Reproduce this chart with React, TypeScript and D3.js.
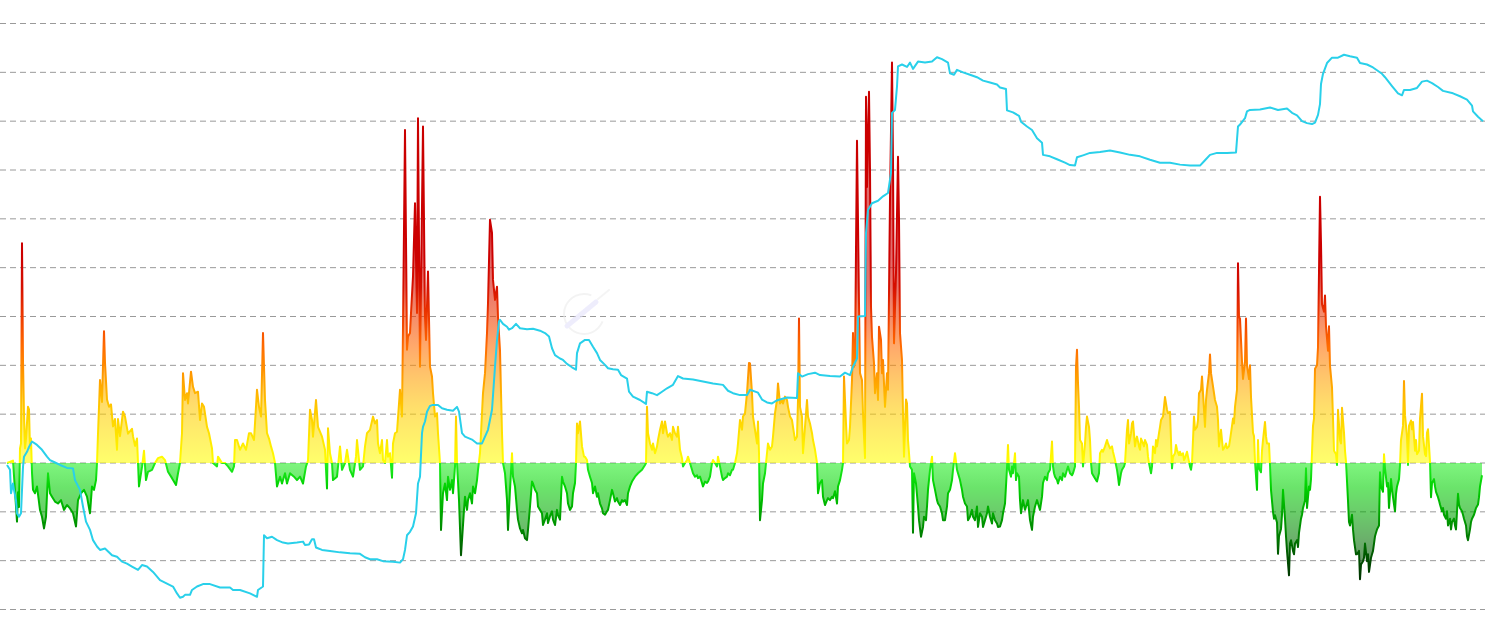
import { useRef, useEffect } from 'react';
import * as d3 from 'd3';

type Pt = [number, number];

// oscillator readings: [day, value]
const OSC_A: Pt[] = [[0,0],[6,0.05],[10,-1.2],[11,-0.6],[12,-0.9],[13,0.3],[14,0.4],[15,4.5],[16,2.1],[17,1.0],[18,0.3],[19,0.5],[21,1.15],[22,1.1],[23,0.3],[24,0.5],[25,-0.2],[26,-0.55],[28,-0.62],[30,-0.48],[33,-0.96],[35,-1.1],[37,-1.34],[39,-1.1],[41,-0.21],[43,-0.62],[45,-0.69],[48,-0.79],[51,-0.83],[54,-0.76],[57,-0.96],[60,-0.86],[63,-0.93],[66,-1.03],[69,-1.3],[71,-0.76],[74,-0.62],[77,-0.55],[80,-0.69],[83,-1.03],[85,-0.48],[87,-0.55],[89,-0.35],[90,0],[91,0.6],[93,1.7],[95,1.25],[96,2.0],[97,2.7],[98,2.05],[100,1.3],[102,1.15],[104,1.2],[106,0.75],[108,0.9],[110,0.27],[111,0.9],[113,0.55],[116,1.05],[118,0.95],[121,0.6],[125,0.7],[126,0.55],[128,0.35],[130,0.5],[131,0],[132,-0.48],[135,-0.08],[137,0.25],[139,-0.35],[141,-0.18],[145,-0.14],[148,0],[151,0.1],[155,0.13],[158,0.06],[161,-0.18],[165,-0.31],[169,-0.45],[171,-0.21],[173,0],[175,0.61],[176,1.84],[178,1.29],[180,1.43],[181,1.22],[184,1.87],[186,1.56],[188,1.43],[191,1.46],[193,0.88],[195,1.22],[197,1.15],[200,0.74],[202,0.61],[205,0.3],[206,0],[210,-0.07],[211,0.13],[215,0],[218,0],[221,-0.07],[225,-0.18],[227,-0.07],[228,0.47],[230,0.47],[233,0.27],[236,0.4],[239,0.27],[242,0.61]];

const OSC_B: Pt[] = [[244,0.61],[247,0.47],[250,1.5],[252,1.15],[254,0.95],[256,2.66],[258,1.29],[260,0.61],[262,0.5],[264,0.34],[266,0.2],[268,0],[270,-0.48],[273,-0.28],[275,-0.42],[278,-0.21],[280,-0.42],[283,-0.21],[287,-0.28],[290,-0.35],[293,-0.28],[296,-0.42],[299,-0.07],[301,0.05],[303,1.09],[305,0.88],[306,0.54],[309,1.29],[311,0.74],[315,0.54],[318,0.27],[320,-0.52],[321,0.71],[323,0.2],[325,0],[326,-0.35],[330,-0.28],[333,0.34],[335,-0.14],[338,0],[340,0.27],[343,-0.14],[346,-0.28],[349,0.13],[350,0.47],[353,-0.14],[356,-0.07],[358,0.34],[360,0.61],[363,0.68],[366,0.95],[368,0.81],[370,0.88],[371,0.4],[373,0.2],[375,0.47],[376,0.06],[378,0],[380,0.47],[381,0.13],[383,0.2],[385,-0.3],[386,0.4],[388,0.61],[390,0.64],[393,1.5],[395,0.95],[396,2.79],[398,6.82],[400,2.32],[401,2.59],[403,2.66],[404,3.07],[406,3.82],[408,5.32],[410,3.07],[411,7.06],[413,1.97],[416,6.89],[418,3.0],[419,2.52],[421,3.92],[423,1.97],[425,1.77],[426,1.43],[428,0.95],[430,1.02],[431,0.61],[433,0],[434,-1.37],[436,-0.62],[438,-0.42],[440,-0.76],[441,-0.28],[443,-0.55],[445,-0.35],[446,-0.62],[448,-0.07],[449,0.95],[450,0],[452,-0.76],[454,-1.89],[455,-1.58],[457,-0.96],[458,-0.69],[460,-0.96],[461,-0.76],[463,-0.62],[465,-0.83],[466,-0.48],[468,-0.62],[470,-0.35],[471,-0.14],[473,0.2],[475,1.02],[476,1.43],[478,1.84],[480,2.66],[481,3.27],[483,4.98],[485,4.71],[486,3.75],[488,3.34],[490,3.61],[491,2.98],[493,2.3]];

const OSC_C: Pt[] = [[495,0.61],[496,0],[498,-0.21],[500,-0.76],[501,-1.37],[503,-0.55],[505,0.2],[506,-0.28],[508,-0.48],[510,-0.96],[511,-1.16],[513,-1.34],[515,-1.44],[516,-1.37],[518,-1.54],[520,-1.58],[521,-1.37],[523,-0.89],[525,-0.38],[526,-0.42],[528,-0.55],[530,-0.62],[531,-0.89],[533,-0.96],[535,-1.03],[536,-1.27],[538,-1.16],[540,-1.03],[541,-1.23],[543,-1.09],[545,-0.99],[546,-1.16],[548,-1.27],[550,-0.96],[551,-1.06],[553,-1.16],[555,-0.28],[556,-0.38],[558,-0.48],[560,-0.62],[561,-0.83],[563,-0.96],[565,-0.89],[566,-0.62],[568,-0.41],[569,0],[570,0.81],[571,0.61],[573,0.85],[575,0.34],[577,0.13],[578,0.13],[580,0.06],[581,-0.14],[583,-0.28],[585,-0.41],[586,-0.62],[588,-0.48],[590,-0.69],[591,-0.62],[593,-0.83],[595,-0.93],[596,-1.03],[598,-1.06],[600,-0.99],[601,-0.96],[603,-0.76],[605,-0.55],[606,-0.62],[608,-0.79],[610,-0.72],[611,-0.79],[613,-0.86],[615,-0.76],[616,-0.79],[618,-0.76],[620,-0.86],[621,-0.62],[623,-0.48],[625,-0.38],[628,-0.28],[631,-0.21],[635,-0.14],[638,-0.04],[639,0],[640,1.15],[641,0.61],[643,0.4],[645,0.27],[646,0.4],[648,0.2],[650,0.34],[651,0.47],[653,0.68],[655,0.85],[656,0.61],[658,0.85],[660,0.61],[661,0.54],[663,0.61],[665,0.47],[666,0.74],[668,0.61],[670,0.54],[671,0.74],[673,0.27],[675,0.1],[676,-0.07],[678,0],[680,0.06],[681,0.13],[683,0],[685,-0.14],[686,-0.21],[688,-0.28],[690,-0.25],[691,-0.31],[693,-0.28],[695,-0.41],[696,-0.48],[698,-0.38],[700,-0.41],[701,-0.38],[703,-0.28],[705,0],[706,0.06],[708,0],[710,-0.07],[711,0.13],[713,-0.07],[715,-0.28],[716,-0.35],[718,-0.31],[720,-0.28],[721,-0.21],[723,-0.25],[725,-0.14],[726,-0.14],[728,0],[730,0.2],[731,0.4],[733,0.88],[735,0.68],[736,0.95],[738,1.02],[740,1.43],[742,2.05]];

const OSC_D: Pt[] = [[743,2.04],[745,1.43],[746,0.95],[748,0.68],[750,0.4],[751,0.85],[752,0.2],[753,-1.17],[755,-0.76],[756,-0.42],[758,-0.21],[759,0],[761,0.4],[763,0.27],[765,0.34],[766,0.54],[768,1.02],[770,1.29],[771,1.63],[773,1.22],[775,1.29],[776,1.22],[778,1.36],[780,1.29],[781,1.15],[783,0.95],[785,0.88],[786,0.74],[788,0.47],[790,0.54],[791,1.29],[792,2.96],[793,1.15],[795,0.95],[796,0.2],[798,0.74],[800,1.29],[801,0.95],[803,0.81],[805,0.61],[806,0.47],[808,0.27],[810,0],[811,-0.62],[813,-0.41],[815,-0.35],[816,-0.69],[818,-0.86],[820,-0.76],[821,-0.72],[823,-0.76],[825,-0.69],[826,-0.72],[828,-0.58],[830,-0.83],[831,-0.48],[833,-0.35],[835,-0.14],[836,0],[837,1.77],[839,0.81],[840,0.4],[842,0.47],[843,0.74],[845,1.7],[846,2.66],[847,1.97],[848,2.11],[850,6.6],[852,3.27],[853,1.84],[855,1.7],[856,1.02],[858,0.1],[859,7.5],[860,5.65],[862,7.6],[863,6.0],[864,3.2],[865,2.58],[867,2.04],[868,1.43],[870,1.84],[871,1.29],[872,2.79],[874,2.52],[875,1.84],[876,2.11],[878,1.15],[880,1.84],[881,1.5],[883,5.4],[885,8.2],[886,6.2],[887,2.45],[889,3.9],[891,6.27],[892,5.0],[893,2.66],[895,2.11],[896,1.02],[897,0.13],[899,1.3],[900,1.22],[901,0.47],[903,-0.07],[905,-0.14],[906,-1.43],[907,-0.21],[909,-0.42],[911,-0.89],[912,-1.17],[914,-1.51],[916,-1.31],[917,-1.1],[919,-1.17],[920,-0.89],[921,-0.55],[923,-0.14],[925,0.13],[926,-0.35],[928,-0.55],[930,-0.76],[931,-0.83],[933,-0.89],[935,-1.03],[936,-1.17],[938,-1.17],[940,-0.89],[941,-0.62],[943,-0.55],[945,-0.35],[946,-0.14],[948,0.2],[950,-0.14],[951,-0.21],[953,-0.35],[955,-0.55],[956,-0.69],[958,-0.83],[960,-0.89],[961,-1.17],[963,-1.1],[965,-0.96],[966,-1.1],[968,-1.17],[970,-0.89],[971,-1.31],[973,-1.03],[975,-1.1],[976,-1.31],[978,-1.17],[980,-1.03],[981,-0.89],[983,-1.1],[985,-1.24],[986,-1.03],[988,-1.17],[990,-1.24],[991,-1.31],[993,-1.3]];

const OSC_E: Pt[] = [[995,-1.17],[996,-1.03],[998,-0.83],[1000,-0.1],[1001,0.37],[1002,-0.14],[1004,-0.28],[1005,-0.07],[1006,-0.21],[1008,0.2],[1009,-0.35],[1010,-0.21],[1012,-0.28],[1013,-0.76],[1014,-1.03],[1015,-0.89],[1016,-0.76],[1018,-0.96],[1020,-0.83],[1021,-0.76],[1023,-1.17],[1025,-1.37],[1026,-1.1],[1028,-0.89],[1030,-0.76],[1031,-0.83],[1033,-0.96],[1035,-0.69],[1036,-0.41],[1038,-0.28],[1040,-0.35],[1041,-0.21],[1043,-0.14],[1045,0.44],[1046,-0.07],[1047,-0.21],[1048,-0.28],[1050,-0.35],[1051,-0.42],[1053,-0.28],[1055,-0.35],[1056,-0.21],[1058,-0.28],[1060,-0.14],[1061,-0.07],[1063,-0.21],[1065,-0.25],[1066,-0.21],[1068,-0.07],[1069,1.97],[1070,2.32],[1071,1.63],[1072,1.15],[1073,0.47],[1075,0.4],[1076,-0.07],[1078,0.4],[1079,0.74],[1080,0.95],[1082,0.74],[1083,0.47],[1084,0],[1085,-0.21],[1087,-0.28],[1089,-0.35],[1090,-0.38],[1092,-0.21],[1093,0.2],[1095,0.27],[1096,0.23],[1098,0.34],[1100,0.47],[1101,0.4],[1103,0.3],[1105,0.34],[1106,0.23],[1108,0.06],[1110,-0.14],[1111,-0.28],[1112,-0.45],[1114,-0.21],[1115,-0.14],[1117,-0.07],[1118,0],[1120,0.68],[1121,0.88],[1122,0.4],[1124,0.61],[1125,0.81],[1126,0.85],[1128,0.34],[1129,0.47],[1130,0.54],[1132,0.34],[1133,0.27],[1134,0.5],[1136,0.4],[1137,0.34],[1138,0.47],[1140,0.37],[1141,0.13],[1142,0],[1144,-0.21],[1145,-0.07],[1146,0.34],[1148,0.2],[1149,0.47],[1150,0.34],[1152,0.61],[1153,0.74],[1154,0.88],[1156,0.95],[1157,1.15],[1158,1.35],[1160,1.09],[1161,1.02],[1163,1.05],[1164,0.47],[1165,-0.11],[1166,0.13],[1168,0.2],[1169,0.37],[1170,0.27],[1172,0.16],[1173,0.23],[1174,0.16],[1176,0.2],[1177,0.06],[1178,0.1],[1180,0.23],[1181,0.13],[1183,-0.07],[1184,-0.14],[1185,0],[1187,0.95],[1188,0.68],[1190,0.74],[1191,0.88],[1192,1.43],[1194,1.5],[1195,1.77],[1196,1.43],[1198,0.74],[1199,1.29],[1200,1.5],[1202,1.84],[1203,2.22],[1204,1.84],[1206,1.57],[1207,1.43],[1208,1.29],[1210,1.15],[1211,0.88],[1212,0.34],[1214,0.68],[1215,0.47],[1216,0.27],[1218,0.34],[1219,0.4],[1220,0.3],[1222,0.34],[1223,0.47],[1224,0.61],[1226,0.91],[1227,0.81],[1228,1.15],[1230,1.5],[1231,4.09],[1232,2.99]];

const OSC_F: Pt[] = [[1233,2.96],[1235,2.08],[1236,1.72],[1238,2.08],[1239,2.96],[1240,2.0],[1242,1.72],[1243,2.0],[1244,1.35],[1246,0.62],[1247,0.55],[1248,0.03],[1250,-0.55],[1251,0.47],[1252,-0.11],[1254,-0.19],[1255,0.25],[1256,0.47],[1258,0.84],[1259,0.55],[1260,0.4],[1262,0.4],[1263,-0.04],[1264,-0.55],[1266,-1.0],[1267,-1.14],[1268,-1.07],[1270,-1.22],[1271,-1.86],[1272,-1.5],[1274,-1.35],[1275,-1.06],[1276,-0.55],[1278,-1.14],[1279,-1.5],[1280,-1.8],[1282,-2.3],[1283,-1.65],[1284,-1.58],[1286,-1.8],[1287,-1.87],[1288,-1.65],[1290,-1.58],[1291,-1.72],[1292,-1.43],[1294,-1.14],[1295,-1.06],[1296,-0.92],[1298,-0.77],[1299,-0.11],[1300,-0.92],[1302,-0.48],[1303,-0.55],[1304,-0.33],[1306,0.76],[1307,0.91],[1308,1.93],[1310,2.0],[1311,2.37],[1313,5.45],[1314,4.5],[1315,3.25],[1317,3.1],[1318,3.43],[1319,2.8],[1321,2.3],[1322,2.8],[1323,1.99],[1325,1.55],[1326,0.91],[1327,0.25],[1329,0.18],[1330,-0.04],[1331,1.09],[1333,0.47],[1334,0.4],[1335,1.13],[1337,0.62],[1338,0.25],[1339,0.03],[1341,-0.77],[1342,-1.21],[1343,-1.28],[1345,-1.06],[1346,-1.36],[1347,-1.58],[1349,-1.87],[1350,-1.87],[1352,-1.8],[1353,-2.38],[1354,-2.08],[1356,-2.01],[1357,-1.94],[1358,-1.65],[1360,-2.01],[1361,-1.87],[1362,-2.23],[1364,-1.94],[1365,-1.87],[1366,-1.8],[1368,-1.5],[1369,-1.43],[1370,-1.36],[1372,-1.28],[1373,-0.19],[1374,-0.48],[1376,-0.59],[1377,0.18],[1378,-0.11],[1380,-0.48],[1381,-0.41],[1382,-0.92],[1384,-0.33],[1385,-0.55],[1386,-0.7],[1388,-0.99],[1389,-0.63],[1390,-0.48],[1392,-0.33],[1393,-0.04],[1394,0.47],[1396,0.76],[1397,1.68],[1398,0.98],[1400,0.55],[1401,-0.04],[1402,0.76],[1404,0.87],[1405,0.69],[1406,0.84],[1408,0.25],[1409,0.47],[1410,0.18],[1412,0.25],[1413,0.91],[1415,1.42],[1416,0.55],[1418,0.18],[1419,0.14],[1420,0.62],[1421,0.69],[1423,0.03],[1424,-0.7],[1425,-0.41],[1427,-0.33],[1428,-0.48],[1429,-0.59],[1431,-0.7],[1432,-0.77],[1433,-0.85],[1435,-0.99],[1436,-0.92],[1437,-1.06],[1439,-1.14],[1440,-0.99],[1441,-1.28],[1443,-1.14],[1444,-1.36],[1445,-1.21],[1447,-1.14],[1448,-1.28],[1449,-1.36],[1451,-0.63],[1452,-0.85],[1453,-0.92],[1455,-0.99],[1456,-1.06],[1457,-1.14],[1459,-1.28],[1460,-1.5],[1461,-1.58],[1463,-1.36],[1464,-1.21],[1465,-1.14],[1467,-1.06],[1468,-0.99],[1469,-0.92],[1471,-0.85],[1472,-0.7],[1473,-0.48],[1475,-0.25]];

// price line readings: [day, value]
const PRICE_A: Pt[] = [[0,-0.04],[3,-0.14],[4,-0.62],[6,-0.42],[7,-0.55],[9,-0.76],[10,-1.03],[12,-1.1],[14,-1.03],[16,-0.08],[17,0.13],[20,0.23],[22,0.33],[25,0.44],[30,0.37],[35,0.27],[40,0.13],[43,0.06],[48,0.01],[53,-0.04],[60,-0.1],[66,-0.11],[68,-0.35],[73,-0.55],[76,-0.89],[79,-1.2],[83,-1.37],[86,-1.58],[90,-1.71],[93,-1.78],[98,-1.75],[105,-1.89],[110,-1.92],[115,-2.02],[120,-2.06],[125,-2.12],[131,-2.19],[135,-2.09],[140,-2.12],[146,-2.23],[153,-2.4],[160,-2.47],[166,-2.53],[170,-2.67],[173,-2.76],[176,-2.74],[178,-2.7],[183,-2.7],[185,-2.6],[190,-2.53],[196,-2.48],[203,-2.48],[213,-2.55],[223,-2.55],[226,-2.6],[233,-2.6],[243,-2.67],[250,-2.74],[251,-2.6],[256,-2.53],[257,-1.48],[260,-1.54],[265,-1.51],[270,-1.58],[276,-1.63],[281,-1.65],[290,-1.63],[296,-1.61],[298,-1.68],[302,-1.67],[305,-1.56],[307,-1.56],[309,-1.73],[315,-1.78],[323,-1.8],[333,-1.83],[343,-1.85],[353,-1.86],[358,-1.93],[363,-1.97],[370,-1.97],[376,-2.01],[386,-2.02],[393,-2.04],[396,-1.97],[398,-1.78],[400,-1.48],[403,-1.41],[406,-1.3],[409,-1.03],[411,-0.42],[413,-0.28],[415,0.61],[416,0.74],[418,0.85],[420,1.05],[423,1.17],[426,1.19],[431,1.19],[435,1.12],[440,1.09],[446,1.07],[450,1.15],[452,1.05],[455,0.61],[458,0.54],[465,0.48],[470,0.4],[475,0.4],[478,0.54],[481,0.68],[485,1.09],[488,1.97],[490,2.52],[492,2.9],[493,2.93],[496,2.85],[500,2.79],[502,2.73],[505,2.76],[509,2.85],[513,2.76],[520,2.74],[526,2.75],[533,2.71],[538,2.66],[542,2.59],[545,2.35],[548,2.21],[553,2.14],[556,2.11],[560,2.03],[565,1.96],[569,1.91],[570,2.25],[573,2.45],[578,2.52],[582,2.52],[586,2.38],[590,2.25],[593,2.11],[598,2.01],[601,1.94],[606,1.92],[611,1.91],[614,1.8],[620,1.73],[622,1.46],[626,1.36],[633,1.29],[639,1.21],[640,1.46],[645,1.43],[650,1.39],[655,1.46],[660,1.53],[666,1.6],[671,1.78],[676,1.73],[686,1.71],[696,1.67],[706,1.63],[716,1.6],[721,1.48],[726,1.43],[733,1.39],[740,1.39],[742,1.46]];

const PRICE_B: Pt[] = [[743,1.5],[751,1.44],[755,1.3],[760,1.24],[765,1.22],[768,1.26],[771,1.29],[780,1.34],[790,1.33],[791,1.84],[795,1.77],[801,1.82],[808,1.85],[813,1.8],[823,1.78],[833,1.77],[838,1.85],[843,1.8],[846,1.97],[850,2.14],[851,3.0],[858,3.01],[859,4.71],[861,5.18],[865,5.32],[871,5.37],[876,5.46],[881,5.53],[884,5.94],[885,7.17],[888,7.23],[890,7.71],[891,8.12],[895,8.16],[900,8.11],[903,8.2],[906,8.07],[911,8.22],[918,8.2],[925,8.22],[930,8.31],[935,8.27],[941,8.2],[943,7.98],[947,7.95],[950,8.05],[956,8.0],[963,7.95],[970,7.9],[976,7.83],[983,7.79],[990,7.75],[993,7.69],[999,7.66],[1000,7.22],[1006,7.18],[1012,7.11],[1014,6.99],[1020,6.89],[1025,6.82],[1030,6.65],[1035,6.56],[1036,6.31],[1043,6.28],[1050,6.22],[1058,6.15],[1063,6.1],[1068,6.09],[1070,6.26],[1076,6.3],[1083,6.35],[1093,6.37],[1103,6.4],[1113,6.36],[1123,6.31],[1133,6.28],[1143,6.21],[1153,6.15],[1163,6.15],[1173,6.11],[1183,6.09],[1193,6.09],[1198,6.2],[1203,6.31],[1210,6.35],[1220,6.35],[1229,6.36],[1231,6.89],[1233,6.93],[1238,7.06],[1240,7.2],[1243,7.23],[1253,7.24],[1263,7.28],[1271,7.23],[1280,7.26],[1285,7.17],[1290,7.12],[1295,7.0],[1300,6.96],[1305,6.94],[1308,6.97],[1311,7.13],[1313,7.35],[1314,7.76],[1316,7.97],[1320,8.19],[1325,8.3],[1331,8.3],[1337,8.36],[1343,8.33],[1350,8.3],[1353,8.19],[1360,8.16],[1366,8.1],[1375,7.97],[1378,7.9],[1385,7.72],[1391,7.57],[1395,7.53],[1397,7.64],[1403,7.64],[1410,7.68],[1415,7.81],[1420,7.83],[1425,7.78],[1431,7.7],[1436,7.62],[1446,7.57],[1453,7.51],[1460,7.44],[1465,7.32],[1466,7.2],[1471,7.09],[1476,7.0]];

const GRID_TICKS = [-3, -2, -1, 0, 1, 2, 3, 4, 5, 6, 7, 8, 9];

// colour ramp by value (stroke); fill uses the same ramp, faded
const POS_STOPS: [number, string][] = [[0, '#ffff00'], [0.6, '#ffe200'], [1.2, '#ffc400'], [1.8, '#ff9a00'], [2.4, '#ff6a00'], [3.0, '#ee3a00'], [3.6, '#d61000'], [4.2, '#cc0000'], [9.5, '#c80000']];
const NEG_STOPS: [number, string][] = [[0, '#22ee22'], [-0.5, '#00d000'], [-1.0, '#00a800'], [-1.5, '#007c00'], [-2.0, '#004c00'], [-2.5, '#002c00']];

export default function App() {
  const ref = useRef<SVGSVGElement>(null);

  useEffect(() => {
    const svg = ref.current;
    if (!svg) return;
    const W = 1490, H = 633;
    d3.select(svg).selectAll('*').remove();
    const root = d3.select(svg).attr('viewBox', `0 0 ${W} ${H}`);

    const osc = [...OSC_A, ...OSC_B, ...OSC_C, ...OSC_D, ...OSC_E, ...OSC_F];
    const price = [...PRICE_A, ...PRICE_B];

    const x = d3.scaleLinear().domain([0, 1476]).range([7, 1483]);
    const y = d3.scaleLinear().domain([-3, 9]).range([609.5, 23.5]);

    // gradient along value axis
    const defs = root.append('defs');
    const vTop = 9.5, vBot = -3.5;
    const off = (v: number) => (y(v) - y(vTop)) / (y(vBot) - y(vTop));
    const grad = defs.append('linearGradient')
      .attr('id', 'oscGrad').attr('gradientUnits', 'userSpaceOnUse')
      .attr('x1', 0).attr('x2', 0).attr('y1', y(vTop)).attr('y2', y(vBot));
    [...POS_STOPS].reverse().forEach(([v, c]) => {
      grad.append('stop').attr('offset', off(v)).attr('stop-color', c);
    });
    NEG_STOPS.forEach(([v, c]) => {
      grad.append('stop').attr('offset', off(v)).attr('stop-color', c);
    });

    // grid
    const g = root.append('g');
    GRID_TICKS.forEach((t) => {
      g.append('line')
        .attr('x1', 0).attr('x2', 1485).attr('y1', y(t)).attr('y2', y(t))
        .attr('stroke', '#9a9a9a').attr('stroke-width', 1).attr('stroke-dasharray', '6,4');
    });

    // watermark
    const wm = root.append('g').attr('opacity', 0.6);
    wm.append('path')
      .attr('d', d3.arc()({ innerRadius: 19, outerRadius: 21, startAngle: Math.PI * 0.62, endAngle: Math.PI * 2.12 }) as string)
      .attr('transform', 'translate(584,314)').attr('fill', '#ececec');
    wm.append('line').attr('x1', 567).attr('y1', 326).attr('x2', 596).attr('y2', 302)
      .attr('stroke', '#e4e2fb').attr('stroke-width', 5).attr('stroke-linecap', 'round');
    wm.append('line').attr('x1', 598).attr('y1', 299).attr('x2', 609).attr('y2', 290)
      .attr('stroke', '#eeeeee').attr('stroke-width', 2).attr('stroke-linecap', 'round');

    const area = d3.area<Pt>()
      .x((d) => x(d[0]))
      .y0(y(0))
      .y1((d) => y(d[1]));
    const line = d3.line<Pt>()
      .x((d) => x(d[0]))
      .y((d) => y(d[1]));

    g.append('path').datum(osc).attr('d', area)
      .attr('fill', 'url(#oscGrad)').attr('fill-opacity', 0.58);
    g.append('path').datum(osc).attr('d', line)
      .attr('fill', 'none').attr('stroke', 'url(#oscGrad)')
      .attr('stroke-width', 2).attr('stroke-linejoin', 'round');

    g.append('path').datum(price).attr('d', line)
      .attr('fill', 'none').attr('stroke', '#29d0ea')
      .attr('stroke-width', 2).attr('stroke-linejoin', 'round');
  }, []);

  return (
    <svg
      ref={ref}
      width={1490}
      height={633}
      style={{ position: 'absolute', left: 0, top: 0, display: 'block', background: '#fff' }}
    />
  );
}
